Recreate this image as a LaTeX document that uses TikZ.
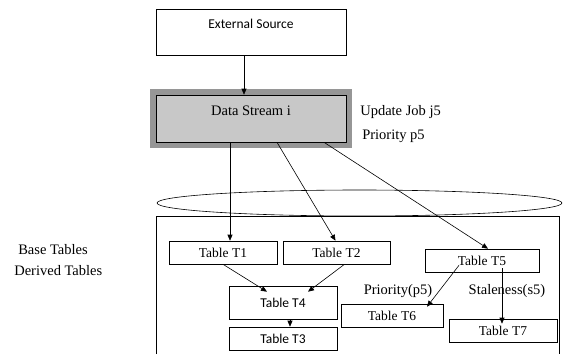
\documentclass[tikz,border=0pt]{standalone}
\usepackage{fontspec}
\setmainfont{Liberation Serif}
\newfontfamily\calfont{Carlito}
\usetikzlibrary{arrows.meta}

\definecolor{dsgray}{RGB}{150,150,150}
\definecolor{dslight}{RGB}{200,200,200}

\begin{document}
\begin{tikzpicture}[x=1pt,y=-1pt,line width=0.6pt,
    >={Triangle[length=6pt,width=5pt]},
    every node/.style={font=\fontsize{14.5}{16}\selectfont},
    sansfont/.style={font=\calfont\fontsize{13.5}{15}\selectfont},
    tbl/.style={draw,minimum width=108pt,minimum height=23pt,inner sep=0pt,font=\fontsize{13.5}{15}\selectfont},
    lbl/.style={anchor=west,inner sep=0pt}]
    \useasboundingbox (0,0) rectangle (563,354);

    % External source and data stream
    \node[draw,sansfont,minimum width=190pt,inner sep=0pt,text height=19pt,text depth=27pt] (ext) at (251,32) {External Source};
    \node[draw,fill=dslight,minimum width=190pt,inner sep=0pt,text height=20pt,text depth=27pt,
          preaction={draw=dsgray,line width=12pt}] (ds) at (251,118.5) {Data Stream i};
    \node[lbl] (job) at (360,112) {Update Job j5};
    \node[lbl] (prio) at (362,136) {Priority p5};

    % Database cylinder
    \draw (359.5,203) ellipse [x radius=202.5, y radius=13];
    \draw (156,354) -- (156,216) -- (559,216) -- (559,354);

    % Tables
    \node[tbl] (t1) at (223,252.5) {Table T1};
    \node[tbl,minimum width=107pt] (t2) at (336.5,252.5) {Table T2};
    \node[tbl,minimum width=114pt] (t5) at (482,260.5) {Table T5};
    \node[tbl,sansfont,minimum height=33pt] (t4) at (283,302.5) {Table T4};
    \node[tbl,sansfont] (t3) at (283,338.5) {Table T3};
    \node[tbl,minimum width=102pt] (t6) at (392,315.5) {Table T6};
    \node[tbl] (t7) at (503,330.5) {Table T7};
    \node (pr) at (398,291) {Priority(p5)};
    \node (st) at (507,291) {Staleness(s5)};

    % Labels on the left
    \node[lbl] (base) at (18,250) {Base Tables};
    \node[lbl] (der) at (14,271) {Derived Tables};

    % Arrows
    \draw[->] ([xshift=-7pt]ext.south) -- ([xshift=-7pt]ds.north);
    \draw[->] ([xshift=-21pt]ds.south) -- ([xshift=7pt]t1.north);
    \draw[->] ([xshift=26pt]ds.south) -- ([xshift=-1pt]t2.north);
    \draw[->] ([xshift=73pt]ds.south) -- ([xshift=6pt]t5.north);
    \draw[->] (t1.south) -- ([xshift=-16pt,yshift=-6pt]t4.north);
    \draw[->] ([xshift=8pt]t2.south) -- ([xshift=25pt,yshift=-6pt]t4.north);
    \draw[->] ([xshift=7pt]t4.south) -- ([xshift=7pt]t3.north);
    \draw[->] ([xshift=-23pt,yshift=7pt]t5.south) -- ([xshift=35pt,yshift=-3pt]t6.north);
    \draw[->] ([xshift=20pt,yshift=4pt]t5.south) -- ([xshift=-1pt,yshift=-5pt]t7.north);
\end{tikzpicture}
\end{document}
